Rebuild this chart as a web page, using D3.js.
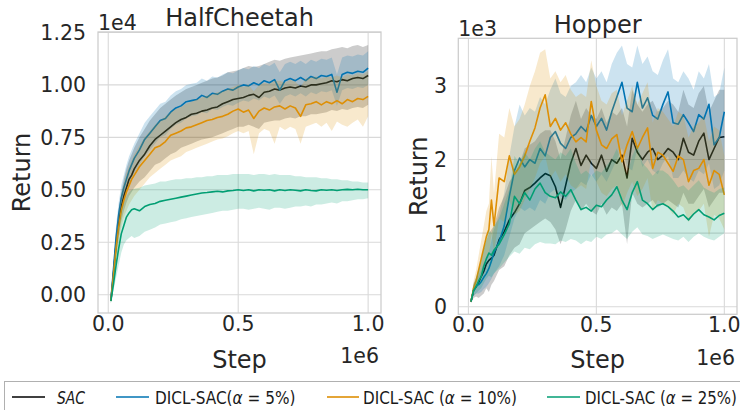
<!DOCTYPE html>
<html><head><meta charset="utf-8">
<script src="https://cdn.jsdelivr.net/npm/d3@7"></script>
<style>
body{margin:0;background:#fff}
svg{display:block}
text{font-family:"DejaVu Sans",sans-serif;fill:#262626}
.leg text{font-family:"DejaVu Sans Condensed","DejaVu Sans",sans-serif;font-stretch:condensed;fill:#1a1a1a}
</style>
</head><body><svg id="c" width="740" height="410"></svg>
<script>
// x positions (in units of 1e6 steps)
const steps = [0.01,0.02,0.03,0.04,0.05,0.06,0.07,0.08,0.09,0.10,
  0.12,0.14,0.16,0.18,0.20,0.22,0.24,0.26,0.28,0.30,
  0.32,0.34,0.36,0.38,0.40,0.42,0.44,0.46,0.48,0.50,
  0.52,0.54,0.56,0.58,0.60,0.62,0.64,0.66,0.68,0.70,
  0.72,0.74,0.76,0.78,0.80,0.82,0.84,0.86,0.88,0.90,
  0.92,0.94,0.96,0.98,1.00];
const xTicks = [0, 0.5, 1.0];
const hcYTicks = [0, 0.25, 0.5, 0.75, 1.0, 1.25];
const hpYTicks = [0, 1, 2, 3];
const seriesNames = ["SAC", "DICL-SAC(α = 5%)", "DICL-SAC (α = 10%)", "DICL-SAC (α = 25%)"];
const colors = ["#000000", "#0173b2", "#de8f05", "#029e73"];

// HalfCheetah (units of 1e4)
const hcSAC = [-0.03,0.10,0.24,0.34,0.42,0.47,0.51,0.55,0.57,0.60, 0.64,0.67,0.71,0.74,0.76,0.78,0.80,0.82,0.835,0.845, 0.86,0.865,0.875,0.88,0.89,0.895,0.91,0.92,0.93,0.935, 0.94,0.95,0.955,0.94,0.965,0.97,0.98,0.975,0.985,0.99, 0.985,0.995,0.99,1.00,1.00,1.005,1.01,1.02,1.015,1.025, 1.02,1.03,1.035,1.03,1.045];
const hcSACLo = [-0.04,0.06,0.18,0.27,0.35,0.40,0.44,0.47,0.49,0.51, 0.54,0.56,0.59,0.62,0.63,0.65,0.67,0.68,0.70,0.71, 0.72,0.73,0.74,0.745,0.75,0.76,0.77,0.78,0.79,0.80, 0.80,0.81,0.80,0.79,0.82,0.825,0.83,0.83,0.84,0.845, 0.84,0.85,0.85,0.86,0.86,0.865,0.87,0.88,0.875,0.885, 0.88,0.89,0.895,0.89,0.905];
const hcSACHi = [-0.02,0.14,0.30,0.41,0.49,0.55,0.60,0.64,0.67,0.70, 0.75,0.79,0.83,0.86,0.89,0.91,0.93,0.95,0.965,0.98, 0.99,1.00,1.01,1.02,1.03,1.035,1.045,1.06,1.065,1.07, 1.08,1.09,1.085,1.09,1.10,1.11,1.12,1.115,1.125,1.13, 1.135,1.14,1.145,1.15,1.155,1.16,1.16,1.17,1.175,1.18, 1.175,1.185,1.19,1.18,1.19];
const hc5 = [-0.03,0.12,0.27,0.38,0.46,0.51,0.55,0.59,0.62,0.65, 0.69,0.74,0.77,0.80,0.83,0.84,0.87,0.89,0.90,0.92, 0.925,0.93,0.95,0.94,0.96,0.955,0.97,0.98,0.975,0.99, 1.00,0.995,1.01,1.00,1.02,1.01,1.025,0.975,1.02,1.03, 1.02,1.035,1.02,1.04,1.03,1.045,1.04,1.05,0.965,1.05, 1.06,1.055,1.065,1.06,1.08];
const hc5Lo = [-0.04,0.08,0.21,0.32,0.40,0.45,0.49,0.52,0.55,0.58, 0.62,0.66,0.69,0.72,0.75,0.76,0.79,0.81,0.82,0.84, 0.85,0.855,0.87,0.865,0.885,0.88,0.895,0.905,0.90,0.915, 0.925,0.92,0.935,0.925,0.945,0.935,0.95,0.91,0.945,0.955, 0.945,0.96,0.945,0.965,0.955,0.97,0.965,0.975,0.90,0.975, 0.985,0.98,0.99,0.985,1.00];
const hc5Hi = [-0.02,0.16,0.33,0.44,0.52,0.57,0.62,0.66,0.69,0.72, 0.77,0.82,0.85,0.88,0.91,0.92,0.95,0.97,0.98,1.00, 1.005,1.01,1.03,1.02,1.04,1.035,1.05,1.06,1.055,1.07, 1.08,1.075,1.09,1.08,1.10,1.09,1.105,1.06,1.10,1.11, 1.10,1.115,1.10,1.12,1.11,1.125,1.12,1.13,1.05,1.13, 1.14,1.135,1.145,1.14,1.16];
const hc10 = [-0.03,0.09,0.22,0.32,0.40,0.45,0.49,0.52,0.55,0.57, 0.61,0.64,0.67,0.70,0.71,0.73,0.76,0.77,0.78,0.795, 0.80,0.81,0.82,0.83,0.835,0.845,0.85,0.86,0.875,0.885, 0.87,0.88,0.84,0.875,0.89,0.88,0.895,0.90,0.885,0.90, 0.89,0.85,0.905,0.91,0.92,0.905,0.92,0.91,0.925,0.91, 0.93,0.92,0.935,0.93,0.945];
const hc10Lo = [-0.04,0.05,0.16,0.25,0.32,0.37,0.40,0.43,0.45,0.47, 0.50,0.53,0.56,0.58,0.60,0.62,0.64,0.65,0.66,0.68, 0.69,0.70,0.71,0.72,0.73,0.74,0.745,0.755,0.77,0.78, 0.77,0.78,0.67,0.77,0.79,0.78,0.72,0.80,0.785,0.80, 0.79,0.72,0.80,0.81,0.82,0.80,0.82,0.78,0.825,0.81, 0.80,0.82,0.835,0.80,0.85];
const hc10Hi = [-0.02,0.13,0.28,0.39,0.48,0.53,0.58,0.61,0.64,0.67, 0.71,0.75,0.78,0.81,0.83,0.85,0.87,0.885,0.895,0.91, 0.92,0.93,0.94,0.95,0.955,0.965,0.97,0.98,0.99,1.00, 0.99,1.00,0.97,1.00,1.01,1.005,1.02,1.02,1.01,1.025, 1.015,0.99,1.03,1.035,1.04,1.03,1.04,1.035,1.045,1.035, 1.05,1.045,1.055,1.05,1.065];
const hc25 = [-0.03,0.05,0.14,0.22,0.29,0.33,0.37,0.39,0.405,0.41, 0.40,0.42,0.43,0.435,0.445,0.45,0.455,0.46,0.465,0.47, 0.475,0.48,0.485,0.487,0.49,0.493,0.49,0.495,0.497,0.50, 0.497,0.50,0.495,0.50,0.498,0.50,0.495,0.50,0.497,0.50, 0.498,0.495,0.50,0.497,0.495,0.50,0.498,0.50,0.497,0.50, 0.502,0.50,0.503,0.50,0.50];
const hc25Lo = [-0.04,0.02,0.08,0.14,0.20,0.24,0.26,0.27,0.28,0.27, 0.28,0.30,0.31,0.32,0.335,0.34,0.345,0.35,0.36,0.365, 0.37,0.375,0.38,0.385,0.39,0.395,0.40,0.40,0.405,0.41, 0.41,0.405,0.41,0.415,0.41,0.405,0.415,0.415,0.41,0.415, 0.42,0.42,0.425,0.42,0.43,0.43,0.435,0.44,0.435,0.445, 0.445,0.45,0.455,0.455,0.46];
const hc25Hi = [-0.02,0.09,0.22,0.32,0.40,0.44,0.47,0.49,0.50,0.505, 0.51,0.52,0.525,0.53,0.54,0.54,0.545,0.55,0.55,0.555, 0.555,0.56,0.56,0.565,0.565,0.57,0.57,0.57,0.575,0.575, 0.575,0.575,0.57,0.575,0.575,0.57,0.575,0.57,0.57,0.57, 0.565,0.565,0.56,0.56,0.56,0.555,0.555,0.55,0.55,0.545, 0.545,0.54,0.54,0.535,0.535];

// Hopper (units of 1e3)
const hpSAC = [0.07,0.22,0.27,0.33,0.41,0.48,0.58,0.63,0.66,0.70, 0.91,1.02,1.18,1.28,1.40,1.58,1.62,1.68,1.75,1.81, 1.78,1.63,1.35,1.65,1.95,2.15,1.92,2.06,1.95,1.88, 2.06,1.84,2.00,1.95,2.06,1.75,2.29,2.10,2.00,2.10, 2.15,2.00,2.06,2.15,2.10,2.00,2.29,2.10,2.06,2.25, 2.36,2.00,2.15,2.30,2.31];
const hpSACLo = [0.05,0.12,0.14,0.12,0.15,0.18,0.25,0.20,0.30,0.35, 0.50,0.55,0.70,0.80,0.85,1.00,1.05,1.10,1.15,1.20, 1.15,1.05,0.85,1.05,1.30,1.45,1.30,1.40,1.30,1.25, 1.40,1.25,1.35,1.30,1.40,0.85,1.55,1.40,1.35,1.40, 1.45,1.35,1.40,1.45,1.40,1.35,1.55,1.40,1.40,1.50, 1.60,1.35,1.45,1.55,1.55];
const hpSACHi = [0.09,0.32,0.40,0.52,0.65,0.78,0.90,1.00,1.05,1.10, 1.35,1.50,1.70,1.80,1.95,2.15,2.20,2.25,2.35,2.40, 2.40,2.25,2.00,2.30,2.60,2.80,2.55,2.70,2.60,2.55, 2.70,2.50,2.65,2.60,2.70,2.45,2.95,2.75,2.65,2.75, 2.80,2.65,2.70,2.80,2.75,2.65,2.95,2.75,2.70,2.90, 3.00,2.65,2.80,2.95,2.95];
const hp5 = [0.07,0.22,0.28,0.30,0.34,0.40,0.45,0.52,0.62,0.74, 0.88,1.10,1.50,1.85,2.02,1.90,2.00,1.95,2.15,2.05, 2.30,2.38,2.22,2.15,2.30,2.35,2.45,2.38,2.60,2.45, 2.56,2.40,2.65,2.85,3.05,2.70,2.65,3.05,2.70,2.84, 2.60,2.55,2.75,2.92,2.50,2.48,2.61,2.50,2.38,2.61, 2.55,2.75,2.20,2.30,2.65];
const hp5Lo = [0.05,0.15,0.18,0.18,0.20,0.24,0.27,0.32,0.38,0.45, 0.55,0.70,0.95,1.20,1.35,1.30,1.35,1.30,1.45,1.40, 1.55,1.60,1.50,1.45,1.55,1.60,1.70,1.65,1.80,1.70, 1.80,1.70,1.85,2.00,2.15,1.90,1.85,2.15,1.90,2.00, 1.85,1.80,1.95,2.05,1.75,1.75,1.85,1.75,1.70,1.85, 1.80,1.95,1.60,1.65,1.85];
const hp5Hi = [0.09,0.30,0.38,0.42,0.50,0.60,0.65,0.75,0.90,1.05, 1.25,1.55,2.05,2.45,2.75,2.60,2.70,2.65,2.85,2.75, 2.95,3.10,2.90,2.85,3.00,3.05,3.15,3.05,3.25,3.10, 3.20,3.05,3.30,3.45,3.55,3.30,3.25,3.55,3.30,3.40, 3.20,3.15,3.35,3.50,3.10,3.05,3.20,3.10,2.95,3.20, 3.10,3.30,2.85,2.90,3.25];
const hp10 = [0.07,0.25,0.35,0.50,0.65,0.80,0.95,1.05,1.45,1.10, 1.75,1.70,2.05,1.80,1.90,2.05,2.25,2.43,2.70,2.88, 2.45,2.56,2.40,2.50,2.35,2.24,2.30,2.24,2.79,2.40, 2.20,2.15,2.28,2.34,1.97,2.20,2.38,2.15,2.30,2.43, 1.88,2.10,2.06,1.95,1.84,2.05,2.00,1.70,1.85,1.88, 2.00,1.65,1.85,1.80,1.52];
const hp10Lo = [0.05,0.18,0.25,0.35,0.45,0.55,0.65,0.70,1.00,0.75, 1.20,1.15,1.45,1.25,1.30,1.45,1.60,1.75,1.95,2.05, 1.75,1.85,1.70,1.80,1.65,1.60,1.65,1.60,2.00,1.70, 1.55,1.50,1.60,1.65,1.35,1.55,1.70,1.50,1.60,1.75, 1.30,1.45,1.40,1.35,1.25,1.40,1.35,1.15,1.25,1.30, 1.40,0.95,1.25,1.20,1.05];
const hp10Hi = [0.09,0.35,0.50,0.70,0.90,1.10,1.30,1.40,2.05,1.55, 2.35,2.30,2.70,2.45,2.55,2.75,3.00,3.20,3.45,3.50, 3.10,3.20,3.05,3.15,2.95,2.85,2.90,2.85,3.35,3.00, 2.80,2.75,2.90,2.95,2.60,2.80,3.00,2.75,2.90,3.05, 2.50,2.70,2.65,2.55,2.45,2.65,2.60,2.30,2.45,2.50, 2.60,2.25,2.45,2.40,2.05];
const hp25 = [0.07,0.22,0.27,0.35,0.41,0.55,0.65,0.73,0.70,0.77, 0.85,0.98,1.13,1.50,1.40,1.55,1.45,1.60,1.68,1.55, 1.50,1.48,1.56,1.50,1.59,1.45,1.32,1.35,1.30,1.38, 1.36,1.45,1.52,1.63,1.45,1.32,1.55,1.70,1.45,1.40, 1.32,1.38,1.40,1.36,1.30,1.22,1.25,1.18,1.26,1.32, 1.25,1.22,1.18,1.24,1.27];
const hp25Lo = [0.05,0.15,0.18,0.22,0.25,0.32,0.38,0.42,0.40,0.45, 0.52,0.60,0.68,0.75,0.72,0.80,0.78,0.85,0.88,0.86, 0.86,0.85,0.90,0.88,0.92,0.90,0.85,0.90,0.88,0.95, 0.92,0.98,1.00,1.05,0.98,0.92,1.02,1.08,0.98,0.96, 0.92,0.95,0.98,0.95,0.92,0.90,0.95,0.88,0.95,1.00, 0.95,0.92,0.90,0.95,1.00];
const hp25Hi = [0.09,0.30,0.38,0.50,0.60,0.78,0.92,1.05,1.00,1.10, 1.20,1.40,1.60,2.05,1.95,2.10,2.00,2.15,2.25,2.10, 2.05,2.00,2.10,2.05,2.15,1.95,1.80,1.85,1.78,1.85, 1.82,1.92,2.00,2.15,1.95,1.78,2.05,2.20,1.95,1.88, 1.78,1.85,1.85,1.80,1.72,1.62,1.65,1.58,1.65,1.72, 1.62,1.58,1.55,1.60,1.62];

const svg = d3.select("#c");
svg.append("rect").attr("width",740).attr("height",410).attr("fill","#fff");

function panel(cfg, idx){
  const x = d3.scaleLinear().domain([-0.0395, 1.0495]).range([cfg.x0, cfg.x1]);
  const y = d3.scaleLinear().domain(cfg.yDomain).range([cfg.y1, cfg.y0]);
  const g = svg.append("g");
  const clipId = "clip"+idx;
  g.append("clipPath").attr("id", clipId).append("rect")
    .attr("x", cfg.x0).attr("y", cfg.y0).attr("width", cfg.x1-cfg.x0).attr("height", cfg.y1-cfg.y0);
  g.selectAll(".vg").data(xTicks).enter().append("line")
    .attr("x1", d=>x(d)).attr("x2", d=>x(d)).attr("y1", cfg.y0).attr("y2", cfg.y1)
    .attr("stroke","#d9d9d9").attr("stroke-width",1.1);
  g.selectAll(".hg").data(cfg.yTicks).enter().append("line")
    .attr("x1", cfg.x0).attr("x2", cfg.x1).attr("y1", d=>y(d)).attr("y2", d=>y(d))
    .attr("stroke","#d9d9d9").attr("stroke-width",1.1);
  const plot = g.append("g").attr("clip-path", `url(#${clipId})`);
  cfg.series.forEach((s, i) => {
    const pts = steps.map((st, k) => ({x: st, m: s.mean[k], lo: s.lo[k], hi: s.hi[k]}));
    plot.append("path").datum(pts)
      .attr("d", d3.area().x(d=>x(d.x)).y0(d=>y(d.lo)).y1(d=>y(d.hi)))
      .attr("fill", colors[i]).attr("fill-opacity", 0.2).attr("stroke","none");
    plot.append("path").datum(pts)
      .attr("d", d3.line().x(d=>x(d.x)).y(d=>y(d.m)))
      .attr("fill","none").attr("stroke", colors[i]).attr("stroke-width", 1.6)
      .attr("stroke-linejoin","round");
  });
  g.append("rect").attr("x", cfg.x0).attr("y", cfg.y0).attr("width", cfg.x1-cfg.x0).attr("height", cfg.y1-cfg.y0)
    .attr("fill","none").attr("stroke","#cccccc").attr("stroke-width",1.25);
  g.selectAll(".xt").data(xTicks).enter().append("text")
    .attr("x", d=>x(d)).attr("y", cfg.y1+18).attr("text-anchor","middle")
    .attr("font-size", 20.5).text(d=>d3.format(".1f")(d));
  g.selectAll(".yt").data(cfg.yTicks).enter().append("text")
    .attr("x", cfg.ytx).attr("y", d=>y(d)).attr("dy","0.36em").attr("text-anchor","end")
    .attr("font-size", 20.5).text(d=>cfg.yFmt(d));
  g.append("text").attr("x", cfg.x0).attr("y", cfg.offY).attr("font-size",20.5).text(cfg.offset);
  g.append("text").attr("x", cfg.x1-2).attr("y", cfg.x6Y).attr("text-anchor","end").attr("font-size",20.5).text("1e6");
  g.append("text").attr("x", (cfg.x0+cfg.x1)/2).attr("y", 368).attr("text-anchor","middle")
    .attr("font-size", 24).text("Step");
  g.append("text").attr("transform", `translate(${cfg.ylx},${(cfg.y0+cfg.y1)/2}) rotate(-90)`)
    .attr("text-anchor","middle").attr("font-size", 24).text("Return");
  g.append("text").attr("x", (cfg.x0+cfg.x1)/2).attr("y", cfg.titleY).attr("text-anchor","middle")
    .attr("font-size", 24).text(cfg.title);
}

panel({x0:98, x1:381, y0:32, y1:313, yDomain:[-0.087, 1.252], yTicks:hcYTicks, yFmt:d3.format(".2f"),
  ytx:86, offset:"1e4", offY:29.5, x6Y:363, ylx:30, title:"HalfCheetah", titleY:26,
  series:[{mean:hcSAC,lo:hcSACLo,hi:hcSACHi},{mean:hc5,lo:hc5Lo,hi:hc5Hi},{mean:hc10,lo:hc10Lo,hi:hc10Hi},{mean:hc25,lo:hc25Lo,hi:hc25Hi}]}, 0);
panel({x0:458.3, x1:737, y0:38.3, y1:314.3, yDomain:[-0.103, 3.648], yTicks:hpYTicks, yFmt:d3.format("d"),
  ytx:447, offset:"1e3", offY:35.5, x6Y:365, ylx:427, title:"Hopper", titleY:32.5,
  series:[{mean:hpSAC,lo:hpSACLo,hi:hpSACHi},{mean:hp5,lo:hp5Lo,hi:hp5Hi},{mean:hp10,lo:hp10Lo,hi:hp10Hi},{mean:hp25,lo:hp25Lo,hi:hp25Hi}]}, 1);

// legend
const leg = svg.append("g").attr("class","leg");
leg.append("rect").attr("x",4.5).attr("y",381.5).attr("width",800).attr("height",40)
  .attr("fill","#fff").attr("stroke","#b0b0b0").attr("stroke-width",1);
const legLines = [[12,45],[116,149],[327,359],[547,580]];
const legTextX = [57,155,363,585];
const legTextW = [28,142,154,152];
seriesNames.forEach((name, i) => {
  leg.append("line").attr("x1",legLines[i][0]).attr("x2",legLines[i][1]).attr("y1",397).attr("y2",397)
    .attr("stroke",colors[i]).attr("stroke-width",1.6);
  const t = leg.append("text").attr("x",legTextX[i]).attr("y",404).attr("font-size",17);
  if (i === 0) { t.attr("font-style","italic").text(name); }
  else {
    const m = name.match(/^(DICL-SAC\s?\()α(.*)$/);
    t.append("tspan").text(m[1]);
    t.append("tspan").attr("font-style","italic").text("α");
    t.append("tspan").text(m[2]);
  }
  // squeeze horizontally if the natural width is wider than the reference slot
  const w = t.node().getComputedTextLength();
  if (w > legTextW[i]) {
    const s = legTextW[i] / w, x0 = legTextX[i];
    t.attr("transform", `translate(${x0},0) scale(${s},1) translate(${-x0},0)`);
  }
});
</script>
</body></html>
